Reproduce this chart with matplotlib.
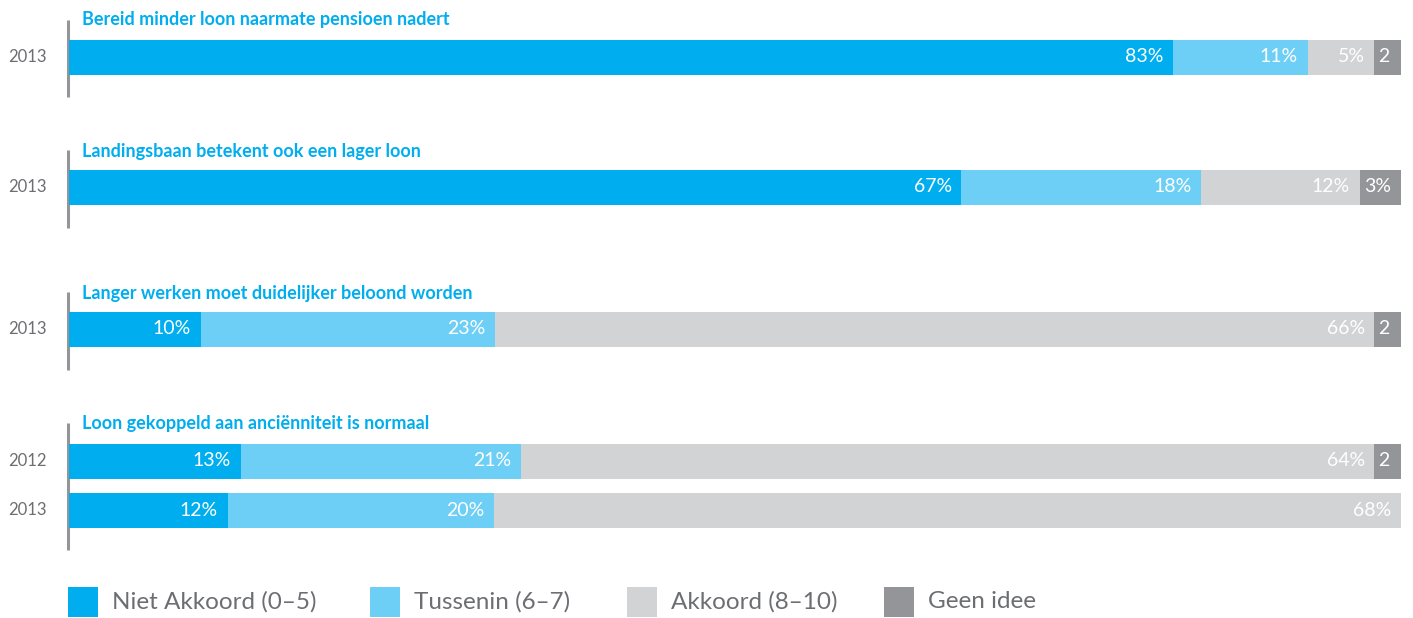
import matplotlib
matplotlib.use("Agg")
import matplotlib.pyplot as plt
from matplotlib.patches import Rectangle

plt.rcParams['font.family'] = ['Lato', 'DejaVu Sans']

# statements and the rows (years) under each
titles = ['Bereid minder loon naarmate pensioen nadert',
          'Landingsbaan betekent ook een lager loon',
          'Langer werken moet duidelijker beloond worden',
          'Loon gekoppeld aan anciënniteit is normaal']
years = ['2013', '2013', '2013', '2012', '2013']

# segment widths (percent, as drawn) and the printed labels
niet = [82.9, 67.0, 9.9, 12.9, 11.9]
tussen = [10.1, 18.0, 22.1, 21.0, 20.0]
akkoord = [5.0, 11.9, 66.0, 64.1, 68.1]
geen = [2.0, 3.1, 2.0, 2.0, 0.0]
niet_lbl = ['83%', '67%', '10%', '13%', '12%']
tussen_lbl = ['11%', '18%', '23%', '21%', '20%']
akkoord_lbl = ['5%', '12%', '66%', '64%', '68%']
geen_lbl = ['2', '3%', '2', '2', '']

legend_labels = ['Niet Akkoord (0–5)', 'Tussenin (6–7)', 'Akkoord (8–10)', 'Geen idee']
colors = ['#00aeef', '#6dcff6', '#d1d3d4', '#939598']
title_color = '#00aeef'
text_gray = '#6d6e71'

# layout (pixel rows, y axis runs top-down)
row_y = [57, 187, 329, 461, 510]
title_y = [19, 151, 293, 424]
line_span = [(20, 97), (150, 228), (292, 370), (423, 550)]
bar_h = 35

W, H = 1413, 618
fig = plt.figure(figsize=(W / 100, H / 100), dpi=100)
ax = fig.add_axes([69 / W, 0, (1401 - 69) / W, 1])
ax.set_xlim(0, 100)
ax.set_ylim(H, 0)
ax.axis('off')

series = [niet, tussen, akkoord, geen]
labels = [niet_lbl, tussen_lbl, akkoord_lbl, geen_lbl]
left = [0.0] * len(years)
for vals, lbls, col in zip(series, labels, colors):
    ax.barh(row_y, vals, left=left, height=bar_h, color=col, linewidth=0, zorder=2)
    for i, (v, l) in enumerate(zip(vals, lbls)):
        if v <= 0 or not l:
            continue
        end = left[i] + v
        off = -7 if l != '2' else -8
        ax.annotate(l, (end, row_y[i]), xytext=(off, 0), textcoords='offset points',
                    ha='right', va='center', color='white', fontsize=14, zorder=3)
    left = [a + b for a, b in zip(left, vals)]

for i, y in enumerate(years):
    ax.annotate(y, (0, row_y[i]), xytext=(-16, 0), textcoords='offset points',
                ha='right', va='center', color=text_gray, fontsize=12, annotation_clip=False)

for t, ty, (y0, y1) in zip(titles, title_y, line_span):
    ax.vlines(-0.08, y0, y1, color='#939598', lw=2.2, zorder=1, clip_on=False)
    ax.annotate(t, (0, ty), xytext=(9.5, 0), textcoords='offset points',
                ha='left', va='center', color=title_color, fontsize=13,
                fontweight='bold', annotation_clip=False)

# legend drawn in pixel space
lax = fig.add_axes([0, 0, 1, 1], zorder=5)
lax.set_xlim(0, W)
lax.set_ylim(H, 0)
lax.axis('off')
lx = [68, 370, 627, 884]
for x, c, lab in zip(lx, colors, legend_labels):
    lax.add_patch(Rectangle((x, 587), 30, 30, color=c, lw=0))
    lax.text(x + 44, 602, lab, ha='left', va='center', color=text_gray, fontsize=17.5)

fig.savefig('out.png', dpi=100)
